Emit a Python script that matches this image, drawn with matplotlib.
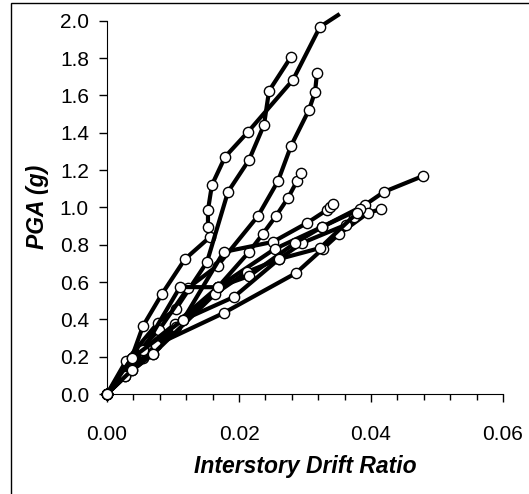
import matplotlib
matplotlib.use("Agg")
import matplotlib.pyplot as plt
from matplotlib.patches import Rectangle
from matplotlib.ticker import MultipleLocator

plt.rcParams['font.family'] = ['Liberation Sans', 'DejaVu Sans']

# interstory drift ratio / PGA (g) for each record
drift_a = [0, .00273, .00545, .00833, .01182, .0156, .0153, .0153, .0159, .01788, .02136, .02818, .03227, .035]
pga_a = [0, .096, .364, .536, .723, .841, .895, .986, 1.12, 1.27, 1.404, 1.683, 1.967, 2.03]
drift_b = [0, .00288, .00768, .01045, .01515, .01833, .02152, .02379, .02455, .02788]
pga_b = [0, .177, .380, .456, .707, 1.083, 1.254, 1.442, 1.624, 1.806]
drift_c = [0, .00379, .00788, .01227, .01677, .02288, .02591, .02788, .0306, .03152, .03182]
pga_c = [0, .193, .343, .568, .688, .954, 1.141, 1.329, 1.522, 1.618, 1.720]
drift_d = [0, .00541, .0103, .01682, .02152, .02359, .02561, .02742, .02879, .02939]
pga_d = [0, .236, .375, .573, .761, .857, .954, 1.050, 1.141, 1.184]
drift_e = [0, .00386, .00697, .01152, .01768, .02515, .0303, .03333, .03379, .03424]
pga_e = [0, .129, .214, .397, .761, .815, .916, .986, 1.002, 1.018]
drift_f = [0, .00541, .01045, .01682, .02541, .03258, .03909, .04197, .04788]
pga_f = [0, .193, .359, .573, .777, .895, 1.013, 1.083, 1.168]
drift_g = [0, .00742, .01768, .02864, .03268, .03515, .03955, .04152]
pga_g = [0, .263, .434, .648, .777, .857, .970, .991]
drift_h = [0, .00273, .00697, .01636, .02121, .02606, .02955, .03617, .03742]
pga_h = [0, .096, .214, .536, .654, .723, .809, .906, .949]
drift_i = [0, .00379, .00545, .01106, .01677, .02152, .02848, .03258, .03833]
pga_i = [0, .129, .236, .573, .572, .632, .809, .895, .991]
drift_j = [0, .00379, .01152, .01924, .02606, .03227, .03788]
pga_j = [0, .193, .397, .520, .723, .782, .970]

curves = [(drift_a, pga_a), (drift_b, pga_b), (drift_c, pga_c), (drift_d, pga_d),
          (drift_e, pga_e), (drift_f, pga_f), (drift_g, pga_g), (drift_h, pga_h),
          (drift_i, pga_i), (drift_j, pga_j)]

fig = plt.figure(figsize=(5.29, 4.94), dpi=100)
ax = fig.add_axes([107/529, 100/494, 396/529, 373.3/494])

for x, y in curves:
    # points above the 2.0 limit are only where the line leaves the plot, no marker
    marks = [k for k in range(len(y)) if y[k] <= 2.0]
    ax.plot(x, y, color='black', lw=3.0, marker='o', markersize=7.4, markevery=marks,
            markerfacecolor='white', markeredgecolor='black', markeredgewidth=1.0,
            clip_on=False, zorder=3)

ax.set_xlim(0, 0.06)
ax.set_ylim(0, 2.0)
ax.xaxis.set_major_locator(MultipleLocator(0.02))
ax.xaxis.set_minor_locator(MultipleLocator(0.004))
ax.yaxis.set_major_locator(MultipleLocator(0.2))
ax.xaxis.set_major_formatter(plt.FuncFormatter(lambda v, p: '%.2f' % v))
ax.yaxis.set_major_formatter(plt.FuncFormatter(lambda v, p: '%.1f' % v))

ax.spines['top'].set_visible(False)
ax.spines['right'].set_visible(False)
ax.tick_params(axis='both', direction='out', labelsize=15, width=1, color='black')
ax.tick_params(axis='x', which='major', length=6, pad=16)
ax.tick_params(axis='x', which='minor', length=4, width=1)
ax.tick_params(axis='y', length=6, pad=7)

ax.set_xlabel('Interstory Drift Ratio', fontsize=16.5, fontweight='bold', style='italic', labelpad=8)
ax.set_ylabel('PGA (g)', fontsize=16.5, fontweight='bold', style='italic', labelpad=8)

fig.add_artist(Rectangle((11/529, -0.1), 2, (494 - 3)/494 + 0.1, transform=fig.transFigure,
                         fill=False, lw=1, edgecolor='black'))

fig.savefig('out.png', dpi=100)
